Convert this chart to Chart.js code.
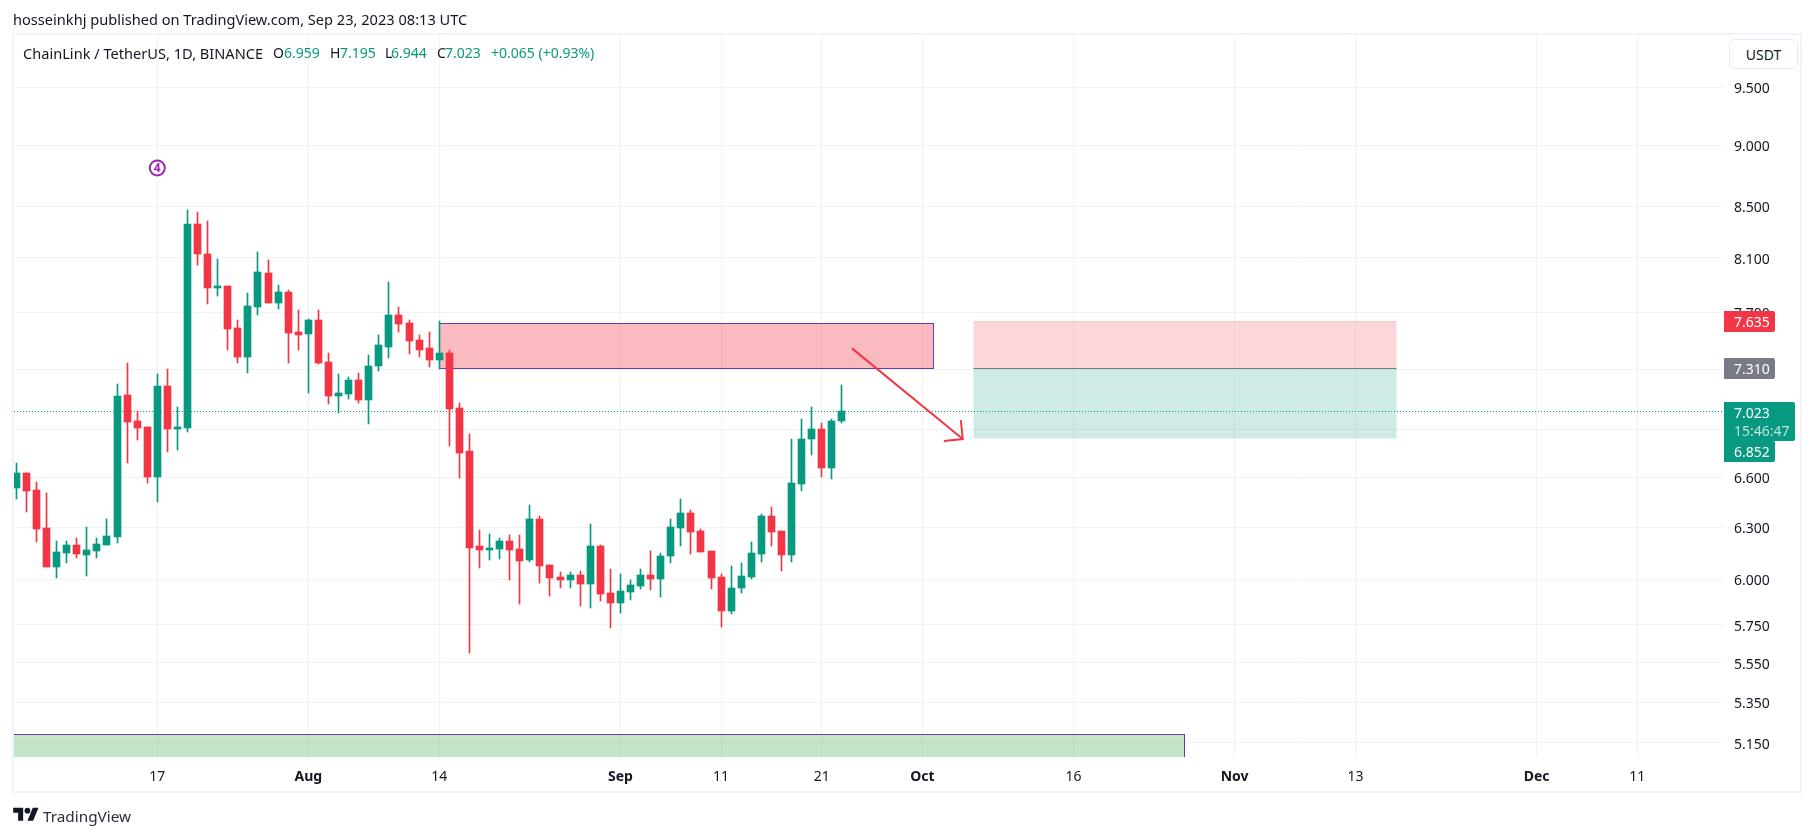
<!DOCTYPE html>
<html>
<head>
<meta charset="utf-8">
<title>LINKUSDT</title>
<script src="https://cdn.jsdelivr.net/npm/chart.js@4/dist/chart.umd.js"></script>
<style>
  html, body { margin: 0; padding: 0; background: #fff; }
  body { width: 1814px; height: 836px; overflow: hidden; position: relative; font: 14px "Noto Sans", sans-serif; color: #131722; }
  canvas { position: absolute; left: 0; top: 0; }
  .t { position: absolute; white-space: nowrap; line-height: 20px; }
  .w { font-size: 14.6px; }
  .g { color: #089981; }
  #frame { position: absolute; left: 12px; top: 33px; width: 1790px; height: 760px; box-sizing: border-box; border: 2px solid #F0F3FA; pointer-events: none; }
  #usdt { position: absolute; left: 1729px; top: 39px; width: 69px; height: 30px; box-sizing: border-box; border: 1px solid #E8EAF2; border-radius: 6px; background: #fff; text-align: center; line-height: 30px; }
</style>
</head>
<body>
<canvas id="chart" width="1814" height="836"></canvas>
<div id="frame"></div>
<div class="t w" style="left:13px;top:9px">hosseinkhj published on TradingView.com, Sep 23, 2023 08:13 UTC</div>
<div class="t w" style="left:23px;top:43px">ChainLink / TetherUS, 1D, BINANCE</div>
<div class="t" style="left:273px;top:43px">O</div><div class="t g" style="left:284px;top:43px">6.959</div>
<div class="t" style="left:330px;top:43px">H</div><div class="t g" style="left:340px;top:43px">7.195</div>
<div class="t" style="left:385px;top:43px">L</div><div class="t g" style="left:391px;top:43px">6.944</div>
<div class="t" style="left:437px;top:43px">C</div><div class="t g" style="left:445px;top:43px">7.023</div>
<div class="t g" style="left:491px;top:43px">+0.065 (+0.93%)</div>
<div id="usdt">USDT</div>
<svg style="position:absolute;left:13px;top:805px" width="26" height="20" viewBox="0 0 36 28" fill="#131722"><path d="M14 22H7V11H0V4h14v18zM28 22h-8l7.5-18h8L28 22z"/><circle cx="20" cy="8" r="4"/></svg>
<div class="t" style="left:43px;top:806px;font-size:15.3px;color:#2a2e39">TradingView</div>

<script>
// days counted from 17 Jul 2023
var days = [-14,-13,-12,-11,-10,-9,-8,-7,-6,-5,-4,-3,-2,-1,0,1,2,3,4,5,6,7,8,9,10,11,12,13,14,15,16,17,18,19,20,21,22,23,24,25,26,27,28,29,30,31,32,33,34,35,36,37,38,39,40,41,42,43,44,45,46,47,48,49,50,51,52,53,54,55,56,57,58,59,60,61,62,63,64,65,66,67,68];
var opens = [6.536,6.627,6.524,6.296,6.071,6.152,6.198,6.140,6.163,6.198,6.244,7.129,6.956,6.916,6.602,7.189,6.902,6.909,8.361,8.126,7.877,7.892,7.590,7.387,7.739,7.986,7.766,7.848,7.562,7.548,7.646,7.351,7.122,7.136,7.229,7.096,7.323,7.457,7.681,7.625,7.499,7.450,7.366,7.415,7.042,6.765,6.187,6.169,6.175,6.221,6.175,6.112,6.350,6.083,6.013,5.996,6.025,5.975,6.192,5.926,5.871,5.931,5.964,6.025,6.002,6.135,6.296,6.386,6.279,6.163,6.013,5.823,5.953,6.013,6.146,6.368,6.279,6.140,6.560,6.840,6.902,6.658,6.959];
var highs = [6.688,6.627,6.572,6.506,6.221,6.221,6.238,6.302,6.238,6.350,7.202,7.344,7.022,6.916,7.269,7.302,7.049,8.471,8.456,8.385,8.095,7.892,7.646,7.841,8.142,8.088,7.899,7.862,7.717,7.653,7.717,7.415,7.269,7.249,7.276,7.401,7.541,7.921,7.739,7.646,7.541,7.562,7.639,7.436,7.076,6.871,6.285,6.262,6.238,6.256,6.256,6.434,6.368,6.083,6.042,6.042,6.048,6.320,6.198,6.060,6.031,5.996,6.060,6.163,6.152,6.350,6.470,6.404,6.290,6.163,6.031,6.077,6.094,6.215,6.380,6.422,6.279,6.840,6.969,7.049,6.942,6.969,7.195];
var lows = [6.470,6.392,6.215,6.071,6.008,6.094,6.123,6.019,6.123,6.198,6.210,6.690,6.833,6.566,6.452,6.756,6.769,6.883,8.044,7.761,7.819,7.436,7.344,7.276,7.681,7.766,7.724,7.344,7.436,7.142,7.337,7.069,7.009,7.102,7.076,6.936,7.289,7.380,7.562,7.408,7.387,7.316,7.302,6.796,6.596,5.600,6.065,6.112,6.117,5.996,5.866,6.100,5.980,5.910,5.953,5.953,5.850,5.839,5.882,5.731,5.817,5.888,5.948,5.942,5.904,6.094,6.192,6.146,6.158,5.948,5.737,5.807,5.926,6.002,6.100,6.187,6.048,6.100,6.518,6.740,6.602,6.590,6.944];
var closes = [6.627,6.518,6.290,6.071,6.158,6.198,6.146,6.169,6.204,6.250,7.122,6.949,6.909,6.602,7.189,6.902,6.916,8.361,8.126,7.877,7.892,7.583,7.387,7.746,7.993,7.766,7.848,7.555,7.541,7.646,7.344,7.122,7.142,7.229,7.096,7.323,7.464,7.681,7.618,7.492,7.436,7.366,7.415,7.036,6.752,6.181,6.169,6.181,6.221,6.169,6.106,6.350,6.077,6.008,5.996,6.025,5.975,6.192,5.920,5.871,5.937,5.969,6.025,6.002,6.135,6.302,6.386,6.273,6.158,6.008,5.823,5.953,6.019,6.152,6.368,6.273,6.140,6.566,6.842,6.902,6.658,6.956,7.023];

var priceTicks = [9.5,9,8.5,8.1,7.7,7.3,6.9,6.6,6.3,6,5.75,5.55,5.35,5.15];
var coveredTicks = [7.3,6.9];
var timeTicks = [0,15,28,46,56,66,76,91,107,119,137,147];
var timeLabels = ['17','Aug','14','Sep','11','21','Oct','16','Nov','13','Dec','11'];
var monthTicks = [15,46,76,107,137];

// drawings, in [first day, last day, upper price, lower price]
var supplyZone = [28,77,7.623,7.307];
var demandZone = [-30,102,5.192,5.0];
var shortTarget = [81,123,7.310,6.852];
var shortStop = [81,123,7.635,7.310];
var arrowFrom = [69,7.444];
var arrowTo = [80,6.840];
var waveMark = [0,8.81,'4'];
var lastPrice = 7.023;
var tagPrices = [7.635,7.310,7.023,6.852];
var countdown = '15:46:47';

var UP = '#089981', DOWN = '#F23645';
var candleColors = closes.map(function (c, i) { return c >= opens[i] ? UP : DOWN; });

function boxOf(chart, z) {
	var x = chart.scales.x, y = chart.scales.y;
	return {
		l: Math.round(x.getPixelForValue(z[0])) + 0.5,
		r: Math.round(x.getPixelForValue(z[1])) + 0.5,
		t: Math.round(y.getPixelForValue(z[2])) + 0.5,
		b: Math.round(y.getPixelForValue(z[3])) + 0.5
	};
}

var drawings = {
	id: 'drawings',
	afterDatasetsUpdate: function (chart) {
		// snap the candles to whole pixels
		chart.getSortedVisibleDatasetMetas().forEach(function (meta) {
			meta.data.forEach(function (el) {
				el.x = Math.floor(el.x) + 0.5;
				el.y = Math.round(el.y);
				el.base = Math.round(el.base);
			});
		});
	},
	beforeDatasetsDraw: function (chart) {
		var c = chart.ctx, a = chart.chartArea, y = chart.scales.y;
		c.save();
		c.beginPath();
		c.rect(a.left, a.top, a.right - a.left, a.bottom - a.top);
		c.clip();

		var b = boxOf(chart, supplyZone);
		c.fillStyle = 'rgba(242,54,69,0.34)';
		c.fillRect(b.l, b.t, b.r - b.l, b.b - b.t);
		c.strokeStyle = '#673AB7';
		c.lineWidth = 1;
		c.strokeRect(b.l, b.t, b.r - b.l, b.b - b.t);

		b = boxOf(chart, demandZone);
		c.fillStyle = 'rgba(76,175,80,0.32)';
		c.fillRect(b.l, b.t, b.r - b.l, b.b - b.t);
		c.strokeStyle = '#673AB7';
		c.strokeRect(b.l, b.t, b.r - b.l, b.b - b.t);

		b = boxOf(chart, shortStop);
		c.fillStyle = 'rgba(242,54,69,0.2)';
		c.fillRect(b.l, b.t, b.r - b.l, b.b - b.t);
		c.strokeStyle = 'rgba(242,54,69,0.2)';
		c.beginPath(); c.moveTo(b.l, b.t); c.lineTo(b.r, b.t); c.stroke();

		b = boxOf(chart, shortTarget);
		c.fillStyle = 'rgba(8,153,129,0.2)';
		c.fillRect(b.l, b.t, b.r - b.l, b.b - b.t + 1);

		var py = Math.round(y.getPixelForValue(lastPrice)) + 0.5;
		c.strokeStyle = UP;
		c.setLineDash([1, 2]);
		c.beginPath(); c.moveTo(a.left, py); c.lineTo(a.right, py); c.stroke();
		c.setLineDash([]);

		c.strokeStyle = '#787B86';
		c.beginPath(); c.moveTo(b.l, b.t); c.lineTo(b.r, b.t); c.stroke();
		c.restore();
	},
	afterDatasetsDraw: function (chart) {
		var c = chart.ctx, x = chart.scales.x, y = chart.scales.y;
		var x1 = x.getPixelForValue(arrowFrom[0]), y1 = y.getPixelForValue(arrowFrom[1]);
		var x2 = x.getPixelForValue(arrowTo[0]), y2 = y.getPixelForValue(arrowTo[1]);
		var ang = Math.atan2(y2 - y1, x2 - x1);
		c.save();
		c.strokeStyle = DOWN;
		c.lineWidth = 2;
		c.beginPath();
		c.moveTo(x1, y1); c.lineTo(x2, y2);
		c.moveTo(x2 + 19 * Math.cos(ang + 2.356), y2 + 19 * Math.sin(ang + 2.356));
		c.lineTo(x2, y2);
		c.lineTo(x2 + 19 * Math.cos(ang - 2.356), y2 + 19 * Math.sin(ang - 2.356));
		c.stroke();

		// elliott wave mark
		var wx = x.getPixelForValue(waveMark[0]), wy = y.getPixelForValue(waveMark[1]);
		c.strokeStyle = '#9C27B0';
		c.lineWidth = 2;
		c.beginPath(); c.arc(wx, wy, 7.5, 0, Math.PI * 2); c.stroke();
		c.fillStyle = '#9C27B0';
		c.font = 'bold 12px "Noto Sans"';
		c.textAlign = 'center';
		c.textBaseline = 'middle';
		c.fillText(waveMark[2], wx, wy + 0.5);
		c.restore();
	},
	afterDraw: function (chart) {
		var c = chart.ctx, y = chart.scales.y;
		var left = chart.chartArea.right;
		c.save();
		c.font = '14px "Noto Sans"';
		c.textAlign = 'left';
		c.textBaseline = 'middle';

		function tag(top, h, w, color) {
			c.fillStyle = color;
			c.beginPath();
			c.roundRect(left, top, w, h, [0, 2, 2, 0]);
			c.fill();
		}
		var y0 = Math.round(y.getPixelForValue(tagPrices[0]));
		tag(y0 - 10, 21, 51, DOWN);
		c.fillStyle = '#fff';
		c.fillText(tagPrices[0].toFixed(3), left + 10, y0 + 2);

		var y1 = Math.round(y.getPixelForValue(tagPrices[1]));
		tag(y1 - 10, 21, 51, '#787B86');
		c.fillStyle = '#fff';
		c.fillText(tagPrices[1].toFixed(3), left + 10, y1 + 2);

		// last price with countdown, the 6.852 tag is pushed below it
		var y2 = Math.round(y.getPixelForValue(tagPrices[2]));
		tag(y2 - 9, 39, 71, UP);
		tag(y2 + 30, 21, 51, UP);
		c.fillStyle = '#fff';
		c.fillText(tagPrices[2].toFixed(3), left + 10, y2 + 3);
		c.fillStyle = 'rgba(255,255,255,0.72)';
		c.fillText(countdown, left + 10, y2 + 21);
		c.fillStyle = '#fff';
		c.fillText(tagPrices[3].toFixed(3), left + 10, y2 + 42);
		c.restore();
	}
};

var candleData = function (a, b) {
	return days.map(function (d, i) { return { x: d, y: [a[i], b[i]] }; });
};

new Chart(document.getElementById('chart'), {
	type: 'bar',
	data: {
		datasets: [{
			label: 'wick',
			data: candleData(lows, highs),
			backgroundColor: candleColors,
			barThickness: 1,
			grouped: false
		}, {
			label: 'body',
			data: candleData(opens, closes),
			backgroundColor: candleColors,
			barThickness: 7,
			grouped: false
		}]
	},
	options: {
		responsive: false,
		animation: false,
		layout: { padding: { left: 14, top: 35, right: 0, bottom: 0 } },
		plugins: { legend: { display: false }, tooltip: { enabled: false } },
		scales: {
			x: {
				type: 'linear',
				offset: false,
				min: -14.233,
				max: 155.61,
				bounds: 'data',
				afterFit: function (s) { s.height = 79; },
				afterBuildTicks: function (s) { s.ticks = timeTicks.map(function (v) { return { value: v }; }); },
				border: { display: false },
				grid: { color: '#F2F2F4', drawTicks: false, offset: false },
				ticks: {
					autoSkip: false,
					maxRotation: 0,
					padding: 12,
					color: '#131722',
					font: function (ctx) {
						var bold = ctx.tick && monthTicks.indexOf(ctx.tick.value) >= 0;
						return { family: '"Noto Sans"', size: 14, weight: bold ? 'bold' : 'normal' };
					},
					callback: function (v) { return timeLabels[timeTicks.indexOf(v)]; }
				}
			},
			y: {
				type: 'logarithmic',
				position: 'right',
				min: 5.083,
				max: 9.974,
				bounds: 'data',
				afterFit: function (s) { s.width = 90; },
				afterBuildTicks: function (s) { s.ticks = priceTicks.map(function (v) { return { value: v }; }); },
				border: { display: false },
				grid: { color: '#F2F2F4', drawTicks: false },
				ticks: {
					autoSkip: false,
					padding: 10,
					labelOffset: 2,
					color: '#131722',
					font: { family: '"Noto Sans"', size: 14 },
					callback: function (v) { return coveredTicks.indexOf(v) >= 0 ? '' : v.toFixed(3); }
				}
			}
		}
	},
	plugins: [drawings]
});
</script>
</body>
</html>
